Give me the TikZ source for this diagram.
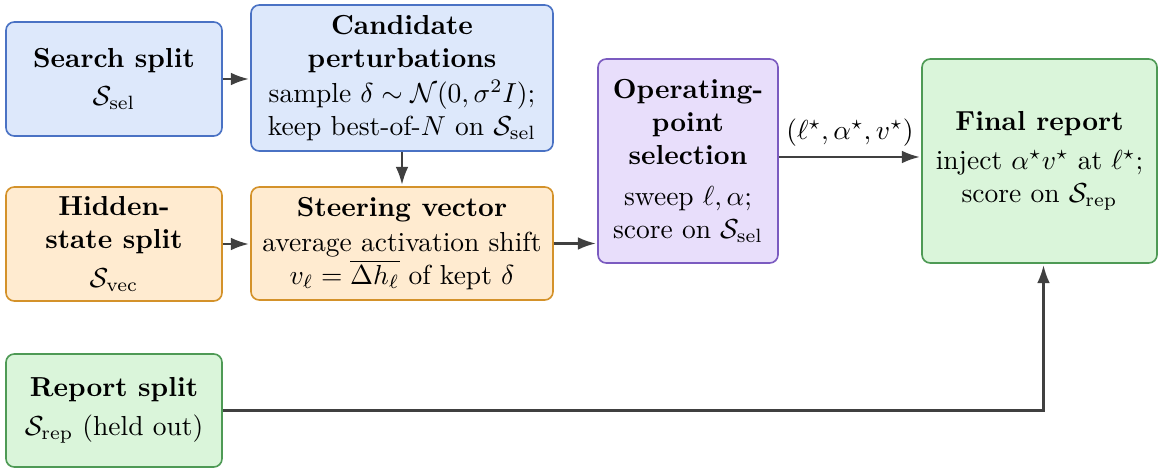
\documentclass[tikz,border=0pt]{standalone}
\usetikzlibrary{arrows.meta}
\definecolor{bluefill}{HTML}{DDE8FB}
\definecolor{blueline}{HTML}{4A72C4}
\definecolor{orfill}{HTML}{FFEBD0}
\definecolor{orline}{HTML}{D4922A}
\definecolor{pufill}{HTML}{E8DEFB}
\definecolor{puline}{HTML}{7B5BC0}
\definecolor{grfill}{HTML}{DAF5DA}
\definecolor{grline}{HTML}{4E9A55}
\definecolor{arr}{HTML}{404040}
\def\px{0.3636pt}
\tikzset{
  box/.style={draw, line width=0.6pt, rounded corners=3pt, align=center, inner sep=2pt},
  bluebox/.style={box, fill=bluefill, draw=blueline},
  orbox/.style={box, fill=orfill, draw=orline},
  pubox/.style={box, fill=pufill, draw=puline},
  grbox/.style={box, fill=grfill, draw=grline},
  flow/.style={draw=arr, line width=0.75pt, shorten >=0.5pt, -{Latex[length=6.5pt,width=4.6pt]}},
}
\begin{document}
\begin{tikzpicture}[x=0.3636pt, y=-0.3636pt]
\useasboundingbox (0,0) rectangle (1159,469);
\node[bluebox, minimum width=216*\px, minimum height=114*\px] (search) at (114,79)
  {\textbf{Search split}\\[2pt] $\mathcal{S}_{\mathrm{sel}}$};
\node[bluebox, minimum width=302*\px, minimum height=146*\px] (cand) at (402,78)
  {\textbf{Candidate}\\ \textbf{perturbations}\\[1pt] sample $\delta\sim\mathcal{N}(0,\sigma^2 I)$;\\ keep best-of-$N$ on $\mathcal{S}_{\mathrm{sel}}$};
\node[orbox, minimum width=216*\px, minimum height=114*\px] (hidden) at (114,244)
  {\textbf{Hidden-}\\ \textbf{state split}\\[2pt] $\mathcal{S}_{\mathrm{vec}}$};
\node[orbox, minimum width=302*\px, minimum height=113*\px] (steer) at (402,243.5)
  {\textbf{Steering vector}\\[1pt] average activation shift\\ $v_\ell=\overline{\Delta h_\ell}$ of kept $\delta$};
\node[pubox, minimum width=180*\px, minimum height=204*\px] (op) at (688,161)
  {\textbf{Operating-}\\ \textbf{point}\\ \textbf{selection}\\[3pt] sweep $\ell,\alpha$;\\ score on $\mathcal{S}_{\mathrm{sel}}$};
\node[grbox, minimum width=235*\px, minimum height=204*\px] (final) at (1039.5,161)
  {\textbf{Final report}\\[2pt] inject $\alpha^\star v^\star$ at $\ell^\star$;\\ score on $\mathcal{S}_{\mathrm{rep}}$};
\node[grbox, minimum width=216*\px, minimum height=113*\px] (rep) at (114,410.5)
  {\textbf{Report split}\\[2pt] $\mathcal{S}_{\mathrm{rep}}$ (held out)};
\draw[flow] (search.east) -- (search.east -| cand.west);
\draw[flow] (cand.south) -- (steer.north);
\draw[flow] (hidden.east) -- (hidden.east -| steer.west);
\draw[flow] (steer.east) -- (steer.east -| op.west);
\draw[flow] ([yshift=4*\px]op.east) -- node[above, text=black] {$(\ell^\star,\alpha^\star,v^\star)$} ([yshift=4*\px]op.east -| final.west);
\coordinate (fin) at ([xshift=4*\px]final.south);
\draw[flow] (rep.east) -| (fin);
\end{tikzpicture}
\end{document}
